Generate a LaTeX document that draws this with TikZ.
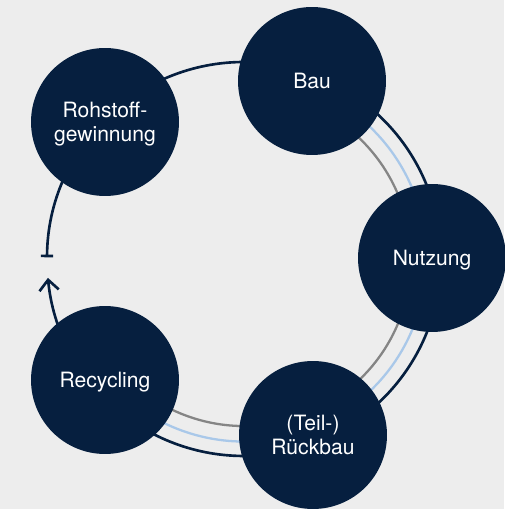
\documentclass[tikz,border=0pt]{standalone}
\usepackage{fontspec}
\setmainfont{TeX Gyre Heros}
\usetikzlibrary{arrows.meta}

\definecolor{navy}{HTML}{061F3F}
\definecolor{paleblue}{HTML}{A9C8E9}
\definecolor{midgray}{HTML}{858585}
\definecolor{bggray}{HTML}{EDEDED}

\begin{document}
\begin{tikzpicture}[x=0.02cm,y=0.02cm]
\fill[bggray] (0,0) rectangle (504,509);
\useasboundingbox (0,0) rectangle (504,509);

\coordinate (ring)       at (244,250);
\coordinate (ring_start) at ([shift={(179.5:197)}]ring);
\coordinate (blue_start) at ([shift={(69:182.5)}]ring);
\coordinate (gray_start) at ([shift={(69:167)}]ring);

\begin{scope}[line width=1.3pt]
    \draw[midgray]  (gray_start) arc[start angle=69, end angle=-139, radius=167];
    \draw[paleblue] (blue_start) arc[start angle=69, end angle=-139, radius=182.5];
\end{scope}
\draw[navy, line width=1.5pt, {Bar[width=7pt]}-{Straight Barb[length=6pt,width=11pt]}]
    (ring_start) arc[start angle=179.5, end angle=-174.5, radius=197];

\begin{scope}[every node/.style={circle,fill=navy,text=white,minimum size=2.96cm,
              inner sep=0pt,align=center,text depth=0pt,
              font=\fontsize{12}{13.7}\selectfont}]
    \node (rohstoff)  at (105,387) {Rohstoff-\\gewinnung};
    \node (bau)       at (312,428) {Bau};
    \node (nutzung)   at (432,251) {Nutzung};
    \node (rueckbau)  at (313,74)  {(Teil-)\\Rückbau};
    \node (recycling) at (105,129) {Recycling};
\end{scope}
\end{tikzpicture}
\end{document}
